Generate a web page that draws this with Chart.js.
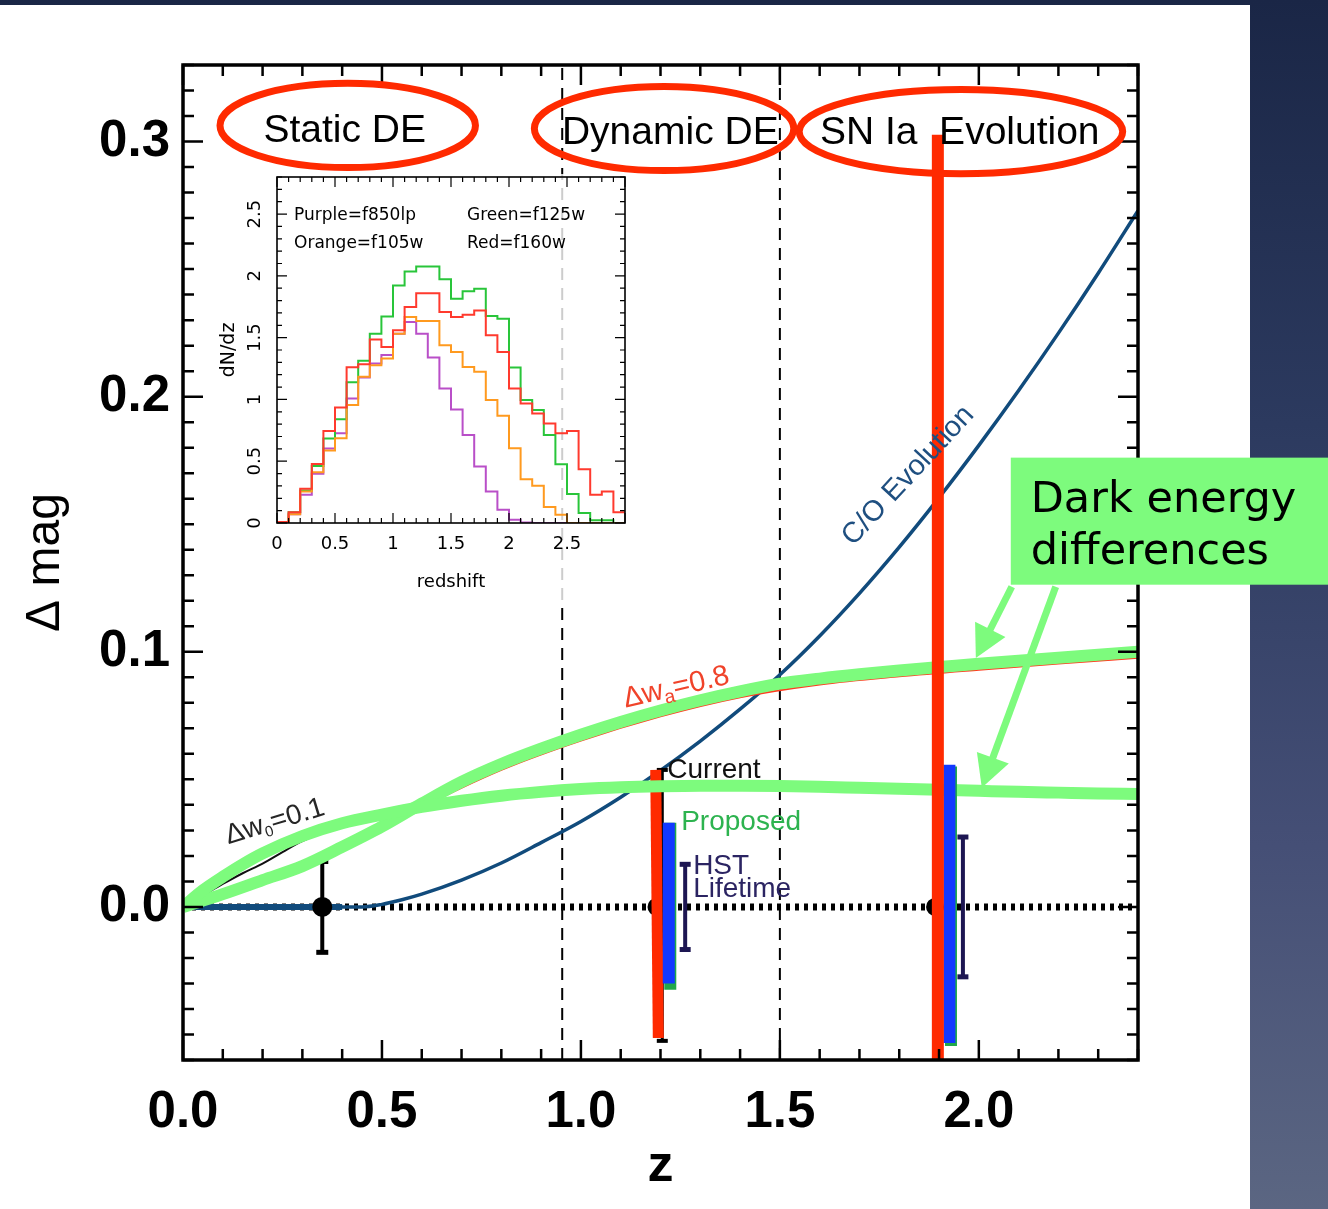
<!DOCTYPE html>
<html>
<head>
<meta charset="utf-8">
<title>Δ mag versus z</title>
<script src="https://cdn.jsdelivr.net/npm/chart.js@4.4.1/dist/chart.umd.min.js"></script>
<style>
  html, body { margin: 0; padding: 0; }
  body {
    width: 1328px; height: 1209px; position: relative; overflow: hidden;
    background: linear-gradient(180deg, #1a2646 0%, #2c3a5f 35%, #454f76 70%, #5b6682 100%);
  }
  #panel { position: absolute; left: 0; top: 5px; width: 1250px; height: 1204px; background: #fff; }
  #main { position: absolute; left: 0; top: 0; }
  #inset { position: absolute; left: 210px; top: 174px; background: rgba(255, 255, 255, 0.8); }
</style>
</head>
<body>
<div id="panel"></div>
<canvas id="main" width="1328" height="1209"></canvas>
<canvas id="inset" width="420" height="426"></canvas>
<script>
const SANS = '"Liberation Sans", Arial, Helvetica, sans-serif';
const WIDE = '"DejaVu Sans", Verdana, sans-serif';

// ---------- main panel: magnitude offset versus redshift ----------
const xTickValues = [0, 0.5, 1.0, 1.5, 2.0];
const yTickValues = [0, 0.1, 0.2, 0.3];

// C/O progenitor evolution
const coEvolutionZ   = [0, 0.2, 0.4, 0.45, 0.5, 0.55, 0.6, 0.7, 0.8, 0.9, 1.0, 1.1, 1.2, 1.3, 1.4, 1.5, 1.6, 1.7, 1.8, 1.9, 2.0, 2.1, 2.2, 2.3, 2.4];
const coEvolutionMag = [0, 0, 0, 0, 0.001, 0.0028, 0.005, 0.0105, 0.0172, 0.0252, 0.0335, 0.043, 0.0535, 0.065, 0.0775, 0.091, 0.1062, 0.1229, 0.141, 0.1604, 0.1809, 0.2024, 0.2249, 0.2484, 0.2729];
const coFlatZ   = [0, 0.4];
const coFlatMag = [0, 0];

// dark energy: change in w_a
const deltaWaZ   = [0, 0.1, 0.2, 0.3, 0.4, 0.5, 0.6, 0.7, 0.8, 0.9, 1.0, 1.1, 1.2, 1.3, 1.4, 1.5, 1.6, 1.7, 1.8, 1.9, 2.0, 2.1, 2.2, 2.3, 2.4];
const deltaWaMag = [0, 0.005, 0.0105, 0.016, 0.0235, 0.0315, 0.0405, 0.049, 0.056, 0.062, 0.0675, 0.0725, 0.077, 0.081, 0.0845, 0.0875, 0.0895, 0.0912, 0.0927, 0.094, 0.0953, 0.0965, 0.0977, 0.0988, 0.1];
const deltaWaTraceZ   = [0, 0.2, 0.4, 0.6, 0.8, 1.0, 1.2, 1.4, 1.6, 1.8, 2.0, 2.2, 2.4];
const deltaWaTraceMag = [0, 0.0095, 0.022, 0.039, 0.0537, 0.0652, 0.0747, 0.0822, 0.0872, 0.0904, 0.093, 0.0954, 0.0977];

// dark energy: change in w_0
const deltaW0Z   = [0, 0.05, 0.1, 0.15, 0.2, 0.3, 0.4, 0.5, 0.6, 0.7, 0.8, 0.9, 1.0, 1.1, 1.2, 1.3, 1.4, 1.5, 1.6, 1.7, 1.8, 1.9, 2.0, 2.1, 2.2, 2.3, 2.4];
const deltaW0Mag = [0, 0.0065, 0.0118, 0.0167, 0.021, 0.0278, 0.0328, 0.0362, 0.0392, 0.0416, 0.0436, 0.0451, 0.0462, 0.0469, 0.0473, 0.0475, 0.0475, 0.0474, 0.0471, 0.0467, 0.0463, 0.0459, 0.0455, 0.0451, 0.0448, 0.0445, 0.0443];
const deltaW0TraceZ   = [0, 0.05, 0.1, 0.15, 0.2, 0.25, 0.3, 0.4, 0.5, 0.6];
const deltaW0TraceMag = [0, 0.0045, 0.009, 0.0132, 0.017, 0.0215, 0.0258, 0.0315, 0.0355, 0.0385];

// reference line and region dividers
const zeroLineZ = [0, 2.4];
const zeroLineMag = [0, 0];
const regionDividerZ = [0.953, 1.5];

// data points with errors
const anchorZ = [0.35];
const anchorMag = [0];
const anchorErr = [0.0178];
const coveredPointZ = [1.19, 1.89];
const coveredPointMag = [0, 0];

// current constraint
const currentZ = [1.2045];
const currentLow = [-0.0525];
const currentHigh = [0.0537];
const currentBandBottomZ = [1.1945];
const currentBandTopZ = [1.188];
const currentBandLow = [-0.0514];
const currentBandHigh = [0.0537];

// proposed survey
const proposedZ = [1.2246, 1.93];
const proposedLow = [-0.0325, -0.0545];
const proposedHigh = [0.033, 0.055];
const proposedCoreZ = [1.2208, 1.926];
const proposedCoreLow = [-0.030, -0.0533];
const proposedCoreHigh = [0.033, 0.0557];

// HST lifetime
const hstZ = [1.262, 1.96];
const hstLow = [-0.0167, -0.0274];
const hstHigh = [0.0167, 0.0274];

// SN Ia evolution marker
const evolutionMarkerZ = [1.897];
const evolutionMarkerLow = [-0.06];
const evolutionMarkerHigh = [0.3027];

// ---------- inset: redshift distributions per filter ----------
const binEdges = [0, 0.1, 0.2, 0.3, 0.4, 0.5, 0.6, 0.7, 0.8, 0.9, 1.0, 1.1, 1.2, 1.3, 1.4, 1.5, 1.6, 1.7, 1.8, 1.9, 2.0, 2.1, 2.2, 2.3, 2.4, 2.5, 2.6, 2.7, 2.8, 2.9, 3.0];
const dndzPurple = [0.008, 0.07, 0.228, 0.398, 0.602, 0.726, 1.008, 1.177, 1.29, 1.36, 1.532, 1.626, 1.532, 1.339, 1.089, 0.919, 0.712, 0.457, 0.255, 0.108, 0.027, 0.005, 0, 0, 0, 0, 0, 0, 0, 0];
const dndzGreen  = [0.008, 0.086, 0.263, 0.462, 0.683, 0.839, 1.14, 1.312, 1.532, 1.672, 1.922, 2.035, 2.075, 2.075, 1.973, 1.815, 1.876, 1.895, 1.675, 1.653, 1.258, 0.995, 0.914, 0.712, 0.476, 0.234, 0.081, 0.022, 0.022, 0];
const dndzOrange = [0.008, 0.07, 0.255, 0.41, 0.586, 0.685, 0.954, 1.183, 1.277, 1.331, 1.532, 1.667, 1.634, 1.634, 1.438, 1.384, 1.263, 1.223, 0.995, 0.868, 0.605, 0.355, 0.301, 0.129, 0.067, 0, 0, 0, 0, 0];
const dndzRed    = [0.008, 0.086, 0.277, 0.478, 0.745, 0.935, 1.261, 1.285, 1.484, 1.425, 1.559, 1.747, 1.86, 1.86, 1.707, 1.667, 1.685, 1.72, 1.519, 1.384, 1.089, 0.968, 0.887, 0.806, 0.726, 0.745, 0.435, 0.228, 0.255, 0.086];
const insetXTicks = [0, 0.5, 1, 1.5, 2, 2.5];
const insetYTicks = [0, 0.5, 1, 1.5, 2, 2.5];
const filterNotes = ['Purple=f850lp', 'Green=f125w', 'Orange=f105w', 'Red=f160w'];

// ---------- colours ----------
const C_BLUE = '#114b7c';
const C_GREEN = '#7dfb7d';
const C_RED = '#ff2a00';
const C_BAR_BLUE = '#1238ff';
const C_BAR_GREEN = '#20a84a';
const C_NAVY = '#1d1652';

// ---------- helpers ----------
const pts = (xs, ys) => xs.map((x, i) => ({ x, y: ys[i] }));
const layers = [];
function addLine(data, style) {
  layers.push(Object.assign({ data, pointRadius: 0, borderWidth: 2, fill: false, tension: 0, borderCapStyle: 'butt' }, style));
}
function addErrorBar(z, lo, hi, color, width, cap) {
  addLine([{ x: z, y: lo }, { x: z, y: hi }], {
    borderColor: color, borderWidth: width,
    pointStyle: 'line', pointRadius: cap, pointBorderWidth: width + 1,
    pointBorderColor: color, pointBackgroundColor: color
  });
}

// layers, listed bottom to top
regionDividerZ.forEach(z => addLine(pts([z, z], [-0.06, 0.33]), { borderColor: '#000', borderWidth: 2, borderDash: [12, 8] }));
addLine(pts(zeroLineZ, zeroLineMag), { borderColor: '#000', borderWidth: 7, borderDash: [4, 5] });
addLine(pts(coEvolutionZ, coEvolutionMag), { borderColor: C_BLUE, borderWidth: 3.5, cubicInterpolationMode: 'monotone' });
addLine(pts(coFlatZ, coFlatMag), { borderColor: C_BLUE, borderWidth: 6 });
addLine(pts(deltaW0TraceZ, deltaW0TraceMag), { borderColor: '#111', borderWidth: 2, cubicInterpolationMode: 'monotone' });
addLine(pts(deltaWaTraceZ, deltaWaTraceMag), { borderColor: '#ff3b1f', borderWidth: 2, cubicInterpolationMode: 'monotone' });
addLine(pts(coveredPointZ, coveredPointMag), { showLine: false, pointRadius: 8, pointBackgroundColor: '#000', pointBorderColor: '#000' });
anchorZ.forEach((z, i) => addErrorBar(z, anchorMag[i] - anchorErr[i], anchorMag[i] + anchorErr[i], '#000', 4, 6));
addLine(pts(anchorZ, anchorMag), { showLine: false, pointRadius: 9, pointBackgroundColor: '#000', pointBorderColor: '#000' });
currentZ.forEach((z, i) => addErrorBar(z, currentLow[i], currentHigh[i], '#000', 3, 5.5));
currentBandTopZ.forEach((z, i) => addLine([{ x: currentBandBottomZ[i], y: currentBandLow[i] }, { x: z, y: currentBandHigh[i] }], { borderColor: C_RED, borderWidth: 11 }));
addLine(pts(deltaWaZ, deltaWaMag), { borderColor: C_GREEN, borderWidth: 12, cubicInterpolationMode: 'monotone' });
addLine(pts(deltaW0Z, deltaW0Mag), { borderColor: C_GREEN, borderWidth: 12, cubicInterpolationMode: 'monotone' });
proposedZ.forEach((z, i) => addLine(pts([z, z], [proposedLow[i], proposedHigh[i]]), { borderColor: C_BAR_GREEN, borderWidth: 12 }));
proposedCoreZ.forEach((z, i) => addLine(pts([z, z], [proposedCoreLow[i], proposedCoreHigh[i]]), { borderColor: C_BAR_BLUE, borderWidth: 12 }));
hstZ.forEach((z, i) => addErrorBar(z, hstLow[i], hstHigh[i], C_NAVY, 4, 5.5));
evolutionMarkerZ.forEach((z, i) => addLine(pts([z, z], [evolutionMarkerLow[i], evolutionMarkerHigh[i]]), { borderColor: C_RED, borderWidth: 12 }));
layers.forEach((d, i) => { d.order = layers.length - i; });

// inward ticks and frame on all four sides
function drawFrame(chart, o) {
  const { ctx, chartArea: { left, right, top, bottom }, scales: { x, y } } = chart;
  ctx.save();
  ctx.strokeStyle = '#000';
  ctx.lineWidth = o.tickWidth;
  ctx.beginPath();
  const near = (v, step) => Math.abs(v / step - Math.round(v / step)) < 1e-6;
  for (let k = Math.ceil(x.min / o.xMinor - 1e-9); k * o.xMinor <= x.max + 1e-9; k++) {
    const v = k * o.xMinor, p = x.getPixelForValue(v);
    const len = near(v, o.xMajor) ? o.majorLen : o.minorLen;
    ctx.moveTo(p, bottom); ctx.lineTo(p, bottom - len);
    ctx.moveTo(p, top); ctx.lineTo(p, top + len);
  }
  for (let k = Math.ceil(y.min / o.yMinor - 1e-9); k * o.yMinor <= y.max + 1e-9; k++) {
    const v = k * o.yMinor, p = y.getPixelForValue(v);
    const len = near(v, o.yMajor) ? o.majorLen : o.minorLen;
    ctx.moveTo(left, p); ctx.lineTo(left + len, p);
    ctx.moveTo(right, p); ctx.lineTo(right - len, p);
  }
  ctx.stroke();
  ctx.lineWidth = o.frameWidth;
  ctx.strokeRect(left, top, right - left, bottom - top);
  ctx.restore();
}

// text made of runs of different sizes (for subscripts), centred at (cx, cy)
function richText(ctx, runs, cx, cy, angleDeg, color) {
  ctx.save();
  ctx.translate(cx, cy);
  ctx.rotate(angleDeg * Math.PI / 180);
  ctx.fillStyle = color;
  ctx.textBaseline = 'middle';
  ctx.textAlign = 'left';
  let w = 0;
  runs.forEach(r => { ctx.font = r.size + 'px ' + SANS; r.w = ctx.measureText(r.t).width; w += r.w; });
  let xx = -w / 2;
  runs.forEach(r => { ctx.font = r.size + 'px ' + SANS; ctx.fillText(r.t, xx, r.dy || 0); xx += r.w; });
  ctx.restore();
}

// annotation anchors, in data units (z, Δ mag)
const regionRings = [
  { z: 0.414, mag: 0.3063, halfZ: 0.321, halfMag: 0.0165 },
  { z: 1.209, mag: 0.3051, halfZ: 0.326, halfMag: 0.0165 },
  { z: 1.955, mag: 0.3039, halfZ: 0.4065, halfMag: 0.0165 }
];
const regionTitles = [
  { t: 'Static DE', z: 0.4065, mag: 0.3 },
  { t: 'Dynamic DE', z: 1.2246, mag: 0.2992 },
  { t: 'SN Ia  Evolution', z: 1.952, mag: 0.2992 }
];
const callout = { leftZ: 2.0803, topMag: 0.1761, bottomMag: 0.1263, textZ: 2.1305, line1Mag: 0.1549, line2Mag: 0.1345 };
const calloutArrows = [
  { z0: 2.0828, m0: 0.1255, z1: 1.9925, m1: 0.0976 },
  { z0: 2.1932, m0: 0.1255, z1: 2.0075, m1: 0.0467 }
];

const notesPlugin = {
  id: 'notes',
  afterDatasetsDraw(chart) {
    drawFrame(chart, { xMinor: 0.1, xMajor: 0.5, yMinor: 0.01, yMajor: 0.1, majorLen: 20, minorLen: 11, tickWidth: 2.5, frameWidth: 3.5 });
  },
  afterDraw(chart) {
    const { ctx, scales: { x, y } } = chart;
    const px = v => x.getPixelForValue(v);
    const py = v => y.getPixelForValue(v);
    ctx.save();

    // region titles and rings
    ctx.fillStyle = '#000';
    ctx.font = '39px ' + SANS;
    ctx.textAlign = 'center';
    ctx.textBaseline = 'alphabetic';
    regionTitles.forEach(r => ctx.fillText(r.t, px(r.z), py(r.mag)));
    ctx.strokeStyle = C_RED;
    ctx.lineWidth = 7;
    regionRings.forEach(r => {
      ctx.beginPath();
      ctx.ellipse(px(r.z), py(r.mag), px(r.z + r.halfZ) - px(r.z), py(r.mag) - py(r.mag + r.halfMag), 0, 0, Math.PI * 2);
      ctx.stroke();
    });

    // curve and bar labels
    richText(ctx, [{ t: 'C/O Evolution', size: 29 }], px(1.8225), py(0.169), -47, '#1f4f80');
    richText(ctx, [{ t: 'Δw', size: 28 }, { t: '0', size: 15, dy: 8 }, { t: '=0.1', size: 28 }], px(0.231), py(0.0333), -17, '#262626');
    richText(ctx, [{ t: 'Δw', size: 29 }, { t: 'a', size: 19, dy: 8 }, { t: '=0.8', size: 29 }], px(1.2397), py(0.0859), -13, '#f0432a');
    ctx.textAlign = 'left';
    ctx.textBaseline = 'middle';
    ctx.font = '28px ' + SANS;
    ctx.fillStyle = '#111';
    ctx.fillText('Current', px(1.217), py(0.0537));
    ctx.fillStyle = '#2db34f';
    ctx.fillText('Proposed', px(1.252), py(0.0333));
    ctx.fillStyle = '#2b2462';
    ctx.fillText('HST', px(1.282), py(0.0161));
    ctx.fillText('Lifetime', px(1.282), py(0.0071));

    // dark energy callout with arrows
    ctx.fillStyle = C_GREEN;
    ctx.strokeStyle = C_GREEN;
    calloutArrows.forEach(a => {
      const x0 = px(a.z0), y0 = py(a.m0), x1 = px(a.z1), y1 = py(a.m1);
      const L = Math.hypot(x1 - x0, y1 - y0), ux = (x1 - x0) / L, uy = (y1 - y0) / L;
      const head = 32, half = 17;
      const bx = x1 - ux * head, by = y1 - uy * head;
      ctx.lineWidth = 7;
      ctx.beginPath(); ctx.moveTo(x0, y0); ctx.lineTo(bx + ux * 3, by + uy * 3); ctx.stroke();
      ctx.beginPath();
      ctx.moveTo(x1, y1);
      ctx.lineTo(bx - uy * half, by + ux * half);
      ctx.lineTo(bx + uy * half, by - ux * half);
      ctx.closePath(); ctx.fill();
    });
    const bx = px(callout.leftZ), by = py(callout.topMag), bb = py(callout.bottomMag);
    ctx.fillRect(bx, by, chart.width - bx, bb - by);
    ctx.fillStyle = '#000';
    ctx.font = '43px ' + WIDE;
    ctx.textAlign = 'left';
    ctx.textBaseline = 'alphabetic';
    ctx.fillText('Dark energy', px(callout.textZ), py(callout.line1Mag));
    ctx.fillText('differences', px(callout.textZ), py(callout.line2Mag));
    ctx.restore();
  }
};

new Chart(document.getElementById('main'), {
  type: 'line',
  data: { datasets: layers },
  options: {
    responsive: false,
    animation: false,
    events: [],
    layout: { padding: { left: 13, top: 65, right: 190, bottom: 0 } },
    plugins: { legend: { display: false }, tooltip: { enabled: false } },
    scales: {
      x: {
        type: 'linear', min: 0, max: 2.4,
        grid: { display: false, drawTicks: false }, border: { display: false },
        afterBuildTicks: s => { s.ticks = xTickValues.map(v => ({ value: v })); },
        afterFit: s => { s.height = 149; },
        ticks: { color: '#000', padding: 22, maxRotation: 0, autoSkip: false, font: { family: SANS, size: 51, weight: 'bold' }, callback: v => Number(v).toFixed(1) },
        title: { display: true, text: 'z', color: '#000', font: { family: SANS, size: 52, weight: 'bold' }, padding: { top: 0, bottom: 11 } }
      },
      y: {
        type: 'linear', min: -0.06, max: 0.33,
        grid: { display: false, drawTicks: false }, border: { display: false },
        afterBuildTicks: s => { s.ticks = yTickValues.map(v => ({ value: v })); },
        afterFit: s => { s.width = 170; },
        ticks: { color: '#000', padding: 13, autoSkip: false, font: { family: SANS, size: 51, weight: 'bold' }, callback: v => Number(v).toFixed(1) },
        title: { display: true, text: 'Δ mag', color: '#000', font: { family: SANS, size: 48 }, padding: { top: 4, bottom: 4 } }
      }
    }
  },
  plugins: [notesPlugin]
});

// ---------- inset chart ----------
const histo = vals => binEdges.map((e, i) => ({ x: e, y: vals[Math.min(i, vals.length - 1)] }));
const insetSets = [
  { data: histo(dndzPurple), borderColor: '#b94fc8' },
  { data: histo(dndzGreen), borderColor: '#29c53a' },
  { data: histo(dndzOrange), borderColor: '#ff9a1f' },
  { data: histo(dndzRed), borderColor: '#ff3a2e' }
].map((d, i, all) => Object.assign(d, { stepped: 'before', pointRadius: 0, borderWidth: 2, fill: false, order: all.length - i }));

const insetPlugin = {
  id: 'insetDecor',
  afterDatasetsDraw(chart) {
    drawFrame(chart, { xMinor: 0.1, xMajor: 0.5, yMinor: 0.1, yMajor: 0.5, majorLen: 10, minorLen: 5, tickWidth: 1.2, frameWidth: 1.6 });
    const { ctx, chartArea: { left }, scales: { x, y } } = chart;
    ctx.save();
    ctx.fillStyle = '#000';
    ctx.font = '18px ' + WIDE;
    ctx.textAlign = 'center';
    ctx.textBaseline = 'middle';
    insetYTicks.forEach(v => {
      ctx.save();
      ctx.translate(left - 22, y.getPixelForValue(v));
      ctx.rotate(-Math.PI / 2);
      ctx.fillText(String(v), 0, 0);
      ctx.restore();
    });
    ctx.font = '17px ' + WIDE;
    ctx.textAlign = 'left';
    const cols = [0.147, 1.638], rows = [2.484, 2.258];
    filterNotes.forEach((t, i) => {
      ctx.fillText(t, x.getPixelForValue(cols[i % 2]), y.getPixelForValue(rows[Math.floor(i / 2)]));
    });
    ctx.restore();
  }
};

new Chart(document.getElementById('inset'), {
  type: 'line',
  data: { datasets: insetSets },
  options: {
    responsive: false,
    animation: false,
    events: [],
    layout: { padding: { left: 4, top: 3, right: 5, bottom: 0 } },
    plugins: { legend: { display: false }, tooltip: { enabled: false } },
    scales: {
      x: {
        type: 'linear', min: 0, max: 3,
        grid: { display: false, drawTicks: false }, border: { display: false },
        afterBuildTicks: s => { s.ticks = insetXTicks.map(v => ({ value: v })); },
        afterFit: s => { s.height = 77; },
        ticks: { color: '#000', padding: 11, maxRotation: 0, autoSkip: false, font: { family: WIDE, size: 18 }, callback: v => String(v) },
        title: { display: true, text: 'redshift', color: '#000', font: { family: WIDE, size: 18 }, padding: { top: 0, bottom: 7 } }
      },
      y: {
        type: 'linear', min: 0, max: 2.8,
        grid: { display: false, drawTicks: false }, border: { display: false },
        ticks: { display: false },
        afterFit: s => { s.width = 63; },
        title: { display: true, text: 'dN/dz', color: '#000', font: { family: WIDE, size: 19 }, padding: { top: 4, bottom: 4 } }
      }
    }
  },
  plugins: [insetPlugin]
});
</script>
</body>
</html>
